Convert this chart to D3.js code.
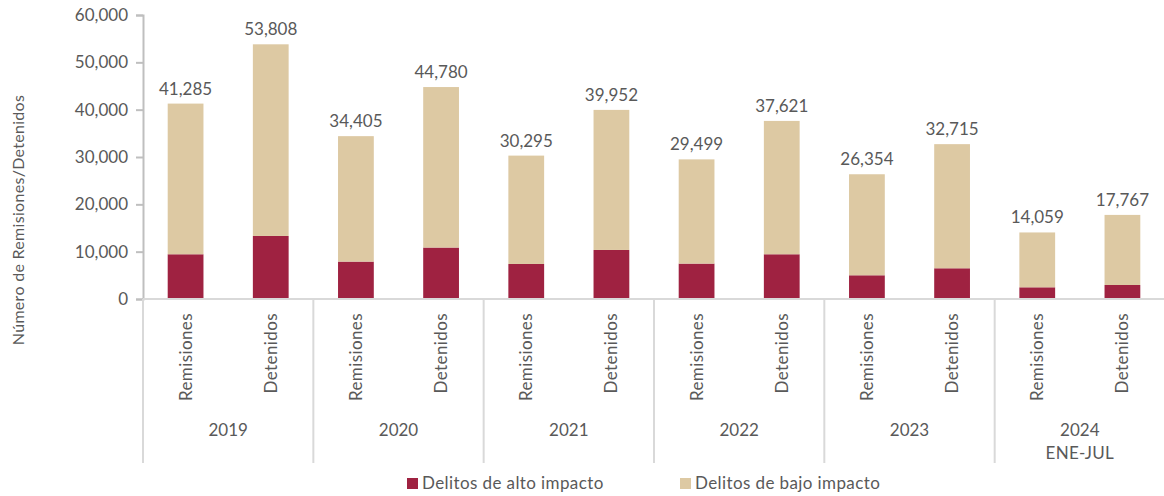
<!DOCTYPE html>
<html>
<head>
<meta charset="utf-8">
<script src="https://cdn.jsdelivr.net/npm/d3@7"></script>
<style>
  body { margin: 0; background: #fff; }
  text { font-family: Lato, "Noto Sans", sans-serif; fill: #595959; }
</style>
</head>
<body>
<div id="chart"></div>
<script>
const width = 1164;
const height = 496;

// data
const years = ["2019", "2020", "2021", "2022", "2023", "2024"];
const yearSub = ["", "", "", "", "", "ENE-JUL"];
const kinds = ["Remisiones", "Detenidos"];
const totals = [41285, 53808, 34405, 44780, 30295, 39952, 29499, 37621, 26354, 32715, 14059, 17767];
const alto = [9450, 13320, 7900, 10870, 7400, 10360, 7480, 9450, 5010, 6490, 2470, 2960];
const yTicks = [0, 10000, 20000, 30000, 40000, 50000, 60000];
const seriesNames = ["Delitos de alto impacto", "Delitos de bajo impacto"];
const colors = ["#9f2241", "#ddc9a3"];

const margin = { top: 15, right: 0, bottom: 197, left: 143 };

const rows = totals.map(function(t, i) {
    return {
        key: years[Math.floor(i / 2)] + "-" + kinds[i % 2],
        year: years[Math.floor(i / 2)],
        kind: kinds[i % 2],
        alto: alto[i],
        bajo: t - alto[i],
        total: t
    };
});

const svg = d3.select("#chart").append("svg")
    .attr("width", width)
    .attr("height", height);

const x = d3.scaleBand()
    .domain(rows.map(d => d.key))
    .range([margin.left, width + 1])
    .paddingInner(0.58)
    .paddingOuter(0.29);

const y = d3.scaleLinear()
    .domain([0, 60000])
    .range([299, margin.top]);

const baseY = y(0);

// y axis
const yAxis = svg.append("g")
    .attr("transform", "translate(" + margin.left + ",0)")
    .call(d3.axisLeft(y).tickValues(yTicks).tickSize(7).tickPadding(8)
        .tickFormat(d3.format(",")));
yAxis.select(".domain").attr("stroke", "#bfbfbf").attr("stroke-width", 2);
yAxis.selectAll(".tick line").attr("stroke", "#bfbfbf").attr("stroke-width", 2);
yAxis.selectAll("text").style("font-size", "17px").attr("fill", "#595959");

// stacked bars
const stack = d3.stack().keys(["alto", "bajo"]);
const layers = stack(rows);

svg.append("g").selectAll("g")
    .data(layers)
    .enter().append("g")
    .attr("fill", (d, i) => colors[i])
    .selectAll("rect")
    .data(d => d)
    .enter().append("rect")
    .attr("x", d => x(d.data.key))
    .attr("width", x.bandwidth())
    .attr("y", d => y(d[1]))
    .attr("height", d => y(d[0]) - y(d[1]));

// total labels
svg.append("g").selectAll("text")
    .data(rows)
    .enter().append("text")
    .attr("x", d => x(d.key) + x.bandwidth() / 2)
    .attr("y", d => y(d.total) - 9)
    .attr("text-anchor", "middle")
    .style("font-size", "17px")
    .text(d => d3.format(",")(d.total));

// x axis line and group separators
const groupW = (width + 1 - margin.left) / years.length;
svg.append("line")
    .attr("x1", margin.left).attr("x2", width)
    .attr("y1", baseY).attr("y2", baseY)
    .attr("stroke", "#d9d9d9").attr("stroke-width", 2);

svg.append("g").selectAll("line")
    .data(d3.range(years.length + 1))
    .enter().append("line")
    .attr("x1", i => margin.left + i * groupW)
    .attr("x2", i => margin.left + i * groupW)
    .attr("y1", baseY)
    .attr("y2", 463)
    .attr("stroke", "#d9d9d9").attr("stroke-width", 2);

// category labels (rotated)
svg.append("g").selectAll("text")
    .data(rows)
    .enter().append("text")
    .attr("transform", d => "translate(" + (x(d.key) + x.bandwidth() / 2 + 6) + "," + 313 + ") rotate(-90)")
    .attr("text-anchor", "end")
    .style("font-size", "17px")
    .style("letter-spacing", "0.4px")
    .text(d => d.kind);

// year labels
svg.append("g").selectAll("text")
    .data(years)
    .enter().append("text")
    .attr("x", (d, i) => margin.left + (i + 0.5) * groupW)
    .attr("y", 436)
    .attr("text-anchor", "middle")
    .style("font-size", "17px")
    .text(d => d);

svg.append("g").selectAll("text")
    .data(yearSub)
    .enter().append("text")
    .attr("x", (d, i) => margin.left + (i + 0.5) * groupW)
    .attr("y", 459)
    .attr("text-anchor", "middle")
    .style("font-size", "17px")
    .style("letter-spacing", "0.3px")
    .text(d => d);

// y axis title
svg.append("text")
    .attr("transform", "translate(24,220) rotate(-90)")
    .attr("text-anchor", "middle")
    .style("font-size", "16px")
    .style("letter-spacing", "0.3px")
    .text("Número de Remisiones/Detenidos");

// legend
const legendX = [407, 680];
const legend = svg.append("g").selectAll("g")
    .data(seriesNames)
    .enter().append("g")
    .attr("transform", (d, i) => "translate(" + legendX[i] + ",478)");
legend.append("rect")
    .attr("width", 11).attr("height", 11)
    .attr("fill", (d, i) => colors[i]);
legend.append("text")
    .attr("x", 15)
    .attr("y", 11)
    .style("font-size", "17px")
    .style("letter-spacing", "0.4px")
    .text(d => d);
</script>
</body>
</html>
